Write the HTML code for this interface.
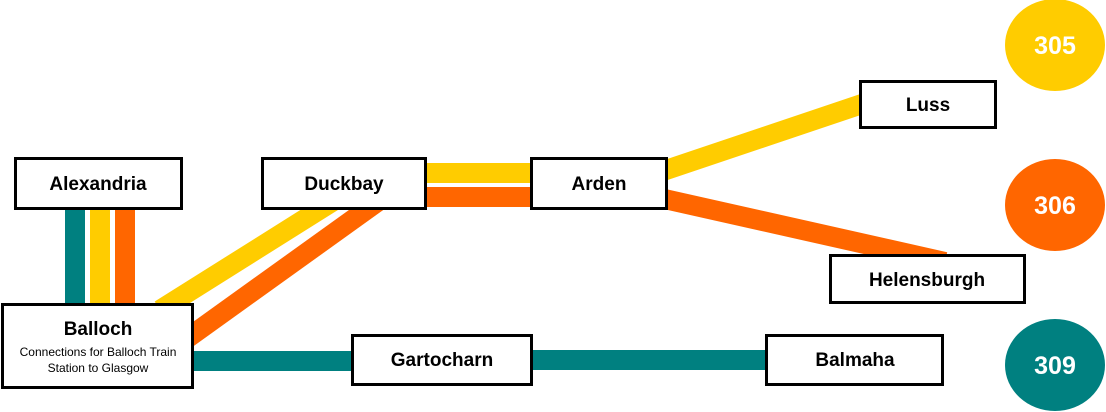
<!DOCTYPE html>
<html><head><meta charset="utf-8"><style>
body{margin:0;background:#fff}
svg{display:block}
text{font-family:"Liberation Sans",Arial,sans-serif}
</style></head><body>
<svg width="1106" height="412" viewBox="0 0 1106 412">
<g stroke-width="20" fill="none">
<line x1="75" y1="205" x2="75" y2="310" stroke="#008080"/>
<line x1="100" y1="205" x2="100" y2="310" stroke="#ffcc00"/>
<line x1="125" y1="205" x2="125" y2="310" stroke="#ff6600"/>
<line x1="335" y1="200" x2="160" y2="310" stroke="#ffcc00"/>
<line x1="380" y1="200" x2="185" y2="340" stroke="#ff6600"/>
<line x1="420" y1="173" x2="540" y2="173" stroke="#ffcc00"/>
<line x1="420" y1="197" x2="540" y2="197" stroke="#ff6600"/>
<line x1="660" y1="172" x2="865" y2="103" stroke="#ffcc00"/>
<line x1="660" y1="198" x2="945" y2="262" stroke="#ff6600"/>
<line x1="190" y1="361" x2="360" y2="361" stroke="#008080"/>
<line x1="525" y1="360" x2="775" y2="360" stroke="#008080"/>
</g>
<g fill="#fff" stroke="#000" stroke-width="3">
<rect x="15.5" y="158.5" width="166" height="50"/>
<rect x="262.5" y="158.5" width="163" height="50"/>
<rect x="531.5" y="158.5" width="135" height="50"/>
<rect x="860.5" y="81.5" width="135" height="46"/>
<rect x="830.5" y="255.5" width="194" height="47"/>
<rect x="2.5" y="304.5" width="190" height="83"/>
<rect x="352.5" y="335.5" width="179" height="49"/>
<rect x="766.5" y="335.5" width="176" height="49"/>
</g>
<g font-weight="bold" font-size="19" text-anchor="middle" fill="#000">
<text x="98" y="190">Alexandria</text>
<text x="344" y="190">Duckbay</text>
<text x="599" y="190">Arden</text>
<text x="928" y="111">Luss</text>
<text x="927" y="286">Helensburgh</text>
<text x="98" y="335">Balloch</text>
<text x="442" y="366">Gartocharn</text>
<text x="855" y="366">Balmaha</text>
</g>
<g font-size="12" text-anchor="middle" fill="#000">
<text x="98" y="356">Connections for Balloch Train</text>
<text x="98" y="372">Station to Glasgow</text>
</g>
<ellipse cx="1055" cy="45" rx="50" ry="46" fill="#ffcc00"/>
<ellipse cx="1055" cy="205" rx="50" ry="46" fill="#ff6600"/>
<ellipse cx="1055" cy="365" rx="50" ry="46" fill="#008080"/>
<g font-weight="bold" font-size="25" text-anchor="middle" fill="#fff">
<text x="1055" y="54">305</text>
<text x="1055" y="214">306</text>
<text x="1055" y="374">309</text>
</g>
</svg>
</body></html>
